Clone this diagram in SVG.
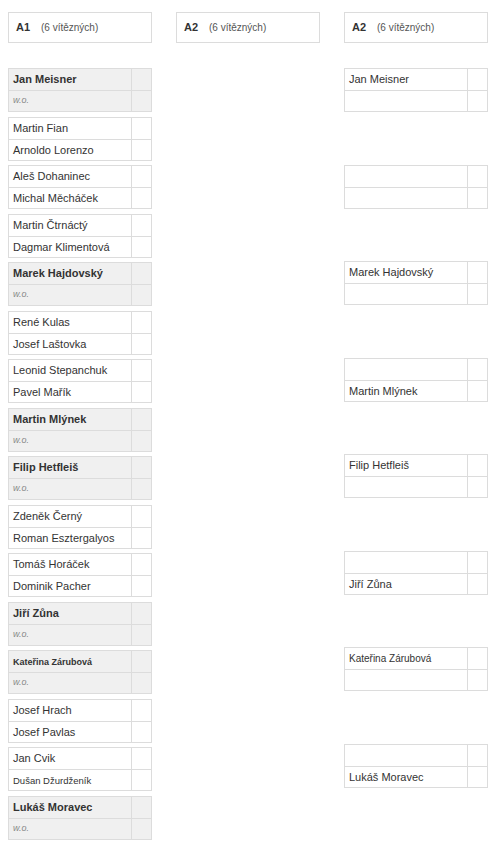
<svg xmlns="http://www.w3.org/2000/svg" width="495" height="848" viewBox="0 0 495 848">
<style>
.hd{fill:#fff;stroke:#dcdcdc;stroke-width:1}
.bx{fill:#fff;stroke:#dcdcdc;stroke-width:1}
.by{fill:#f0f0f0;stroke:#dcdcdc;stroke-width:1}
.ln{stroke:#dcdcdc;stroke-width:1}
text{font-family:"Liberation Sans",Arial,sans-serif;fill:#333}
.hl{font-size:11px;font-weight:bold}
.hs{font-size:10px;fill:#555}
.n{font-size:11px}
.b{font-size:11px;font-weight:bold}
.wo{font-size:9px;font-style:italic;fill:#888}
</style>
<rect width="495" height="848" fill="#fff"/>
<g id="header-a1"><rect class="hd" x="8.5" y="12.5" width="143" height="30"/><text class="hl" x="16" y="31">A1</text><text class="hs" x="41" y="31">(6 vítězných)</text></g>
<g id="header-a2"><rect class="hd" x="176.5" y="12.5" width="143" height="30"/><text class="hl" x="184" y="31">A2</text><text class="hs" x="209" y="31">(6 vítězných)</text></g>
<g id="header-a2b"><rect class="hd" x="344.5" y="12.5" width="143" height="30"/><text class="hl" x="352" y="31">A2</text><text class="hs" x="377" y="31">(6 vítězných)</text></g>

<g id="m1"><rect class="by" x="8.5" y="68.5" width="143" height="43"/><line class="ln" x1="8.5" y1="90.5" x2="151.5" y2="90.5"/><line class="ln" x1="131.5" y1="68.5" x2="131.5" y2="111.5"/><text class="b" x="13" y="83">Jan Meisner</text><text class="wo" x="13" y="103">w.o.</text></g>
<g id="m2"><rect class="bx" x="8.5" y="117.5" width="143" height="43"/><line class="ln" x1="8.5" y1="139.5" x2="151.5" y2="139.5"/><line class="ln" x1="131.5" y1="117.5" x2="131.5" y2="160.5"/><text class="n" x="13" y="132">Martin Fian</text><text class="n" x="13" y="154">Arnoldo Lorenzo</text></g>
<g id="m3"><rect class="bx" x="8.5" y="165.5" width="143" height="43"/><line class="ln" x1="8.5" y1="187.5" x2="151.5" y2="187.5"/><line class="ln" x1="131.5" y1="165.5" x2="131.5" y2="208.5"/><text class="n" x="13" y="180">Aleš Dohaninec</text><text class="n" x="13" y="202">Michal Měcháček</text></g>
<g id="m4"><rect class="bx" x="8.5" y="214.5" width="143" height="43"/><line class="ln" x1="8.5" y1="236.5" x2="151.5" y2="236.5"/><line class="ln" x1="131.5" y1="214.5" x2="131.5" y2="257.5"/><text class="n" x="13" y="229">Martin Čtrnáctý</text><text class="n" x="13" y="251">Dagmar Klimentová</text></g>
<g id="m5"><rect class="by" x="8.5" y="262.5" width="143" height="43"/><line class="ln" x1="8.5" y1="284.5" x2="151.5" y2="284.5"/><line class="ln" x1="131.5" y1="262.5" x2="131.5" y2="305.5"/><text class="b" x="13" y="277">Marek Hajdovský</text><text class="wo" x="13" y="297">w.o.</text></g>
<g id="m6"><rect class="bx" x="8.5" y="311.5" width="143" height="43"/><line class="ln" x1="8.5" y1="333.5" x2="151.5" y2="333.5"/><line class="ln" x1="131.5" y1="311.5" x2="131.5" y2="354.5"/><text class="n" x="13" y="326">René Kulas</text><text class="n" x="13" y="348">Josef Laštovka</text></g>
<g id="m7"><rect class="bx" x="8.5" y="359.5" width="143" height="43"/><line class="ln" x1="8.5" y1="381.5" x2="151.5" y2="381.5"/><line class="ln" x1="131.5" y1="359.5" x2="131.5" y2="402.5"/><text class="n" x="13" y="374">Leonid Stepanchuk</text><text class="n" x="13" y="396">Pavel Mařík</text></g>
<g id="m8"><rect class="by" x="8.5" y="408.5" width="143" height="43"/><line class="ln" x1="8.5" y1="430.5" x2="151.5" y2="430.5"/><line class="ln" x1="131.5" y1="408.5" x2="131.5" y2="451.5"/><text class="b" x="13" y="423">Martin Mlýnek</text><text class="wo" x="13" y="443">w.o.</text></g>
<g id="m9"><rect class="by" x="8.5" y="456.5" width="143" height="43"/><line class="ln" x1="8.5" y1="478.5" x2="151.5" y2="478.5"/><line class="ln" x1="131.5" y1="456.5" x2="131.5" y2="499.5"/><text class="b" x="13" y="471">Filip Hetfleiš</text><text class="wo" x="13" y="491">w.o.</text></g>
<g id="m10"><rect class="bx" x="8.5" y="505.5" width="143" height="43"/><line class="ln" x1="8.5" y1="527.5" x2="151.5" y2="527.5"/><line class="ln" x1="131.5" y1="505.5" x2="131.5" y2="548.5"/><text class="n" x="13" y="520">Zdeněk Černý</text><text class="n" x="13" y="542">Roman Esztergalyos</text></g>
<g id="m11"><rect class="bx" x="8.5" y="553.5" width="143" height="43"/><line class="ln" x1="8.5" y1="575.5" x2="151.5" y2="575.5"/><line class="ln" x1="131.5" y1="553.5" x2="131.5" y2="596.5"/><text class="n" x="13" y="568">Tomáš Horáček</text><text class="n" x="13" y="590">Dominik Pacher</text></g>
<g id="m12"><rect class="by" x="8.5" y="602.5" width="143" height="43"/><line class="ln" x1="8.5" y1="624.5" x2="151.5" y2="624.5"/><line class="ln" x1="131.5" y1="602.5" x2="131.5" y2="645.5"/><text class="b" x="13" y="617">Jiří Zůna</text><text class="wo" x="13" y="637">w.o.</text></g>
<g id="m13"><rect class="by" x="8.5" y="650.5" width="143" height="43"/><line class="ln" x1="8.5" y1="672.5" x2="151.5" y2="672.5"/><line class="ln" x1="131.5" y1="650.5" x2="131.5" y2="693.5"/><text class="b" x="13" y="665" style="font-size:9px">Kateřina Zárubová</text><text class="wo" x="13" y="685">w.o.</text></g>
<g id="m14"><rect class="bx" x="8.5" y="699.5" width="143" height="43"/><line class="ln" x1="8.5" y1="721.5" x2="151.5" y2="721.5"/><line class="ln" x1="131.5" y1="699.5" x2="131.5" y2="742.5"/><text class="n" x="13" y="714">Josef Hrach</text><text class="n" x="13" y="736">Josef Pavlas</text></g>
<g id="m15"><rect class="bx" x="8.5" y="747.5" width="143" height="43"/><line class="ln" x1="8.5" y1="769.5" x2="151.5" y2="769.5"/><line class="ln" x1="131.5" y1="747.5" x2="131.5" y2="790.5"/><text class="n" x="13" y="762">Jan Cvik</text><text class="n" x="13" y="784" style="font-size:9.5px">Dušan Džurdženík</text></g>
<g id="m16"><rect class="by" x="8.5" y="796.5" width="143" height="43"/><line class="ln" x1="8.5" y1="818.5" x2="151.5" y2="818.5"/><line class="ln" x1="131.5" y1="796.5" x2="131.5" y2="839.5"/><text class="b" x="13" y="811">Lukáš Moravec</text><text class="wo" x="13" y="831">w.o.</text></g>

<g id="r1"><rect class="bx" x="344.5" y="68.5" width="143" height="43"/><line class="ln" x1="344.5" y1="90.5" x2="487.5" y2="90.5"/><line class="ln" x1="467.5" y1="68.5" x2="467.5" y2="111.5"/><text class="n" x="349" y="83">Jan Meisner</text></g>
<g id="r2"><rect class="bx" x="344.5" y="165.5" width="143" height="43"/><line class="ln" x1="344.5" y1="187.5" x2="487.5" y2="187.5"/><line class="ln" x1="467.5" y1="165.5" x2="467.5" y2="208.5"/></g>
<g id="r3"><rect class="bx" x="344.5" y="261.5" width="143" height="43"/><line class="ln" x1="344.5" y1="283.5" x2="487.5" y2="283.5"/><line class="ln" x1="467.5" y1="261.5" x2="467.5" y2="304.5"/><text class="n" x="349" y="276">Marek Hajdovský</text></g>
<g id="r4"><rect class="bx" x="344.5" y="358.5" width="143" height="43"/><line class="ln" x1="344.5" y1="380.5" x2="487.5" y2="380.5"/><line class="ln" x1="467.5" y1="358.5" x2="467.5" y2="401.5"/><text class="n" x="349" y="395">Martin Mlýnek</text></g>
<g id="r5"><rect class="bx" x="344.5" y="454.5" width="143" height="43"/><line class="ln" x1="344.5" y1="476.5" x2="487.5" y2="476.5"/><line class="ln" x1="467.5" y1="454.5" x2="467.5" y2="497.5"/><text class="n" x="349" y="469">Filip Hetfleiš</text></g>
<g id="r6"><rect class="bx" x="344.5" y="551.5" width="143" height="43"/><line class="ln" x1="344.5" y1="573.5" x2="487.5" y2="573.5"/><line class="ln" x1="467.5" y1="551.5" x2="467.5" y2="594.5"/><text class="n" x="349" y="588">Jiří Zůna</text></g>
<g id="r7"><rect class="bx" x="344.5" y="647.5" width="143" height="43"/><line class="ln" x1="344.5" y1="669.5" x2="487.5" y2="669.5"/><line class="ln" x1="467.5" y1="647.5" x2="467.5" y2="690.5"/><text class="n" x="349" y="662" style="font-size:10px">Kateřina Zárubová</text></g>
<g id="r8"><rect class="bx" x="344.5" y="744.5" width="143" height="43"/><line class="ln" x1="344.5" y1="766.5" x2="487.5" y2="766.5"/><line class="ln" x1="467.5" y1="744.5" x2="467.5" y2="787.5"/><text class="n" x="349" y="781">Lukáš Moravec</text></g>
<g id="connectors"/>
</svg>
